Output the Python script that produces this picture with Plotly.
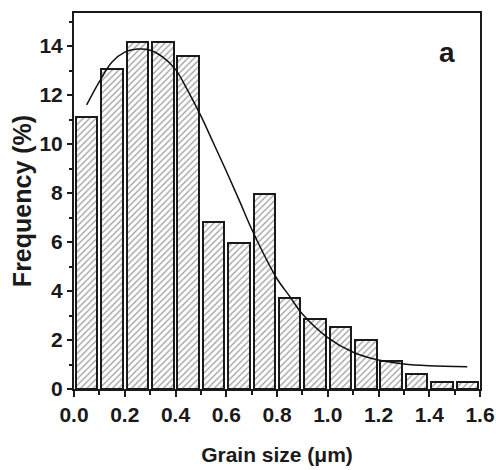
import plotly.graph_objects as go

# Histogram data
bin_centers = [0.05, 0.15, 0.25, 0.35, 0.45, 0.55, 0.65, 0.75,
               0.85, 0.95, 1.05, 1.15, 1.25, 1.35, 1.45, 1.55]
frequency = [11.1, 13.05, 14.15, 14.15, 13.6, 6.8, 5.95, 7.95,
             3.7, 2.85, 2.55, 2.0, 1.13, 0.6, 0.27, 0.27]

# Fitted curve
fit_x = [0.05, 0.1, 0.15, 0.2, 0.25, 0.3, 0.35, 0.4, 0.45, 0.5, 0.55, 0.6,
         0.65, 0.7, 0.75, 0.8, 0.85, 0.9, 1.0, 1.1, 1.2, 1.3, 1.4, 1.55]
fit_y = [11.6, 12.55, 13.35, 13.75, 13.88, 13.83, 13.55, 13.05, 12.15, 11.15,
         10.03, 8.9, 7.73, 6.53, 5.46, 4.5, 3.78, 3.06, 2.1, 1.5, 1.18, 1.02,
         0.95, 0.91]

x_ticks = [0.0, 0.2, 0.4, 0.6, 0.8, 1.0, 1.2, 1.4, 1.6]
y_ticks = [0, 2, 4, 6, 8, 10, 12, 14]

FONT = "Liberation Sans, Arial, sans-serif"

fig = go.Figure()
fig.add_trace(go.Bar(
    x=bin_centers, y=frequency, width=0.085,
    marker=dict(color="white",
                line=dict(color="#1a1a1a", width=2),
                pattern=dict(shape="/", size=4.5, solidity=0.3,
                             fgcolor="#444444", bgcolor="white")),
    showlegend=False,
))
fig.add_trace(go.Scatter(
    x=fit_x, y=fit_y, mode="lines", line=dict(color="#111111", width=1.5, shape="spline"),
    showlegend=False,
))

fig.update_layout(
    width=496, height=470,
    margin=dict(l=74, r=16, t=13, b=81),
    paper_bgcolor="white", plot_bgcolor="white",
    font=dict(family=FONT, color="#1a1a1a"),
    bargap=0,
)
fig.update_xaxes(
    range=[0, 1.6], tickvals=x_ticks, ticktext=[f"{v:.1f}" for v in x_ticks],
    ticks="outside", ticklen=6, tickwidth=2, tickcolor="#1a1a1a",
    minor=dict(dtick=0.1, tick0=0, ticks="outside", ticklen=4, tickwidth=1.5, tickcolor="#1a1a1a"),
    showline=True, linewidth=2, linecolor="#1a1a1a", mirror=True,
    showgrid=False, zeroline=False, automargin=False, ticklabeloverflow="allow",
    tickfont=dict(size=21, family=FONT, weight="bold"),
    title=dict(text="Grain size (μm)", font=dict(size=21, family=FONT, weight="bold"), standoff=22),
)
fig.update_yaxes(
    range=[0, 15.35], tickvals=y_ticks,
    ticks="outside", ticklen=5, tickwidth=2, tickcolor="#1a1a1a",
    minor=dict(dtick=1, tick0=0, ticks="outside", ticklen=3, tickwidth=1.5, tickcolor="#1a1a1a"),
    showline=True, linewidth=2, linecolor="#1a1a1a", mirror=True,
    showgrid=False, zeroline=False, automargin=False, ticklabeloverflow="allow",
    tickfont=dict(size=21, family=FONT, weight="bold"),
    title=dict(text="Frequency (%)", font=dict(size=25, family=FONT, weight="bold"), standoff=1),
)
fig.add_annotation(
    x=0.943, y=0.941, xref="paper", yref="paper", text="a", showarrow=False,
    font=dict(size=28, family=FONT, weight="bold", color="#1a1a1a"),
)

fig.write_html("out.html")
